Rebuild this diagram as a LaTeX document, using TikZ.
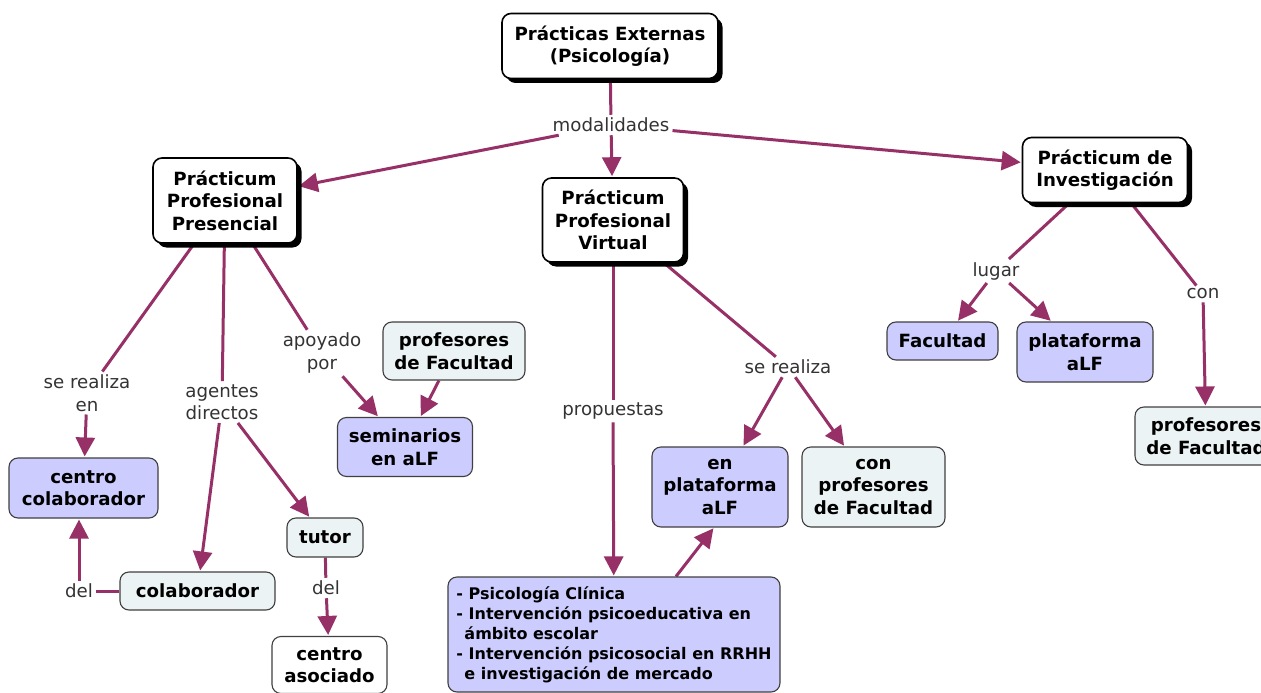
\documentclass[tikz,border=0pt]{standalone}
\usepackage{fontspec}
\setmainfont{DejaVu Sans}
\usetikzlibrary{shadows,arrows.meta,calc,backgrounds}
\definecolor{edgec}{RGB}{150,48,102}
\definecolor{purp}{RGB}{204,204,255}
\definecolor{grayb}{RGB}{236,243,244}
\begin{document}
\begin{tikzpicture}[x=1pt,y=-1pt,
 box/.style={rounded corners=9pt, draw=black!75, line width=1.1pt, align=center,
   font=\fontsize{18.2}{22.5}\selectfont\bfseries, inner sep=0pt},
 mainbox/.style={box, fill=white, draw=black, line width=1.6pt,
   drop shadow={shadow xshift=4.5pt, shadow yshift=-4.5pt, fill=black, opacity=1}},
 pbox/.style={box, fill=purp},
 gbox/.style={box, fill=grayb},
 wbox/.style={box, fill=white},
 lbl/.style={align=center, font=\fontsize{18.2}{22.5}\selectfont, text=black!80, inner sep=3pt},
 conn/.style={draw=edgec, line width=3pt},
 arr/.style={conn, -{Triangle[length=19pt,width=19pt]}, shorten >=1pt},
]
\useasboundingbox (0,0) rectangle (1261,693);

\node[mainbox, minimum width=216pt, minimum height=65pt] (root) at (610,46) {Prácticas Externas\\(Psicología)};
\node[lbl] (mod) at (611,125) {modalidades};
\node[mainbox, minimum width=144pt, minimum height=85pt] (ppp) at (225,200.5) {Prácticum\\Profesional\\Presencial};
\node[mainbox, minimum width=141pt, minimum height=84pt] (ppv) at (613,220) {Prácticum\\Profesional\\Virtual};
\node[mainbox, minimum width=165pt, minimum height=65pt] (pi) at (1105,170) {Prácticum de\\Investigación};
\node[lbl] (l1) at (87,393) {se realiza\\en};
\node[lbl] (l2) at (222,402) {agentes\\directos};
\node[lbl] (l3) at (322,353) {apoyado\\por};
\node[gbox, minimum width=142pt, minimum height=58pt] (profL) at (454,351) {profesores\\de Facultad};
\node[pbox, minimum width=135pt, minimum height=59pt] (sem) at (405,447) {seminarios\\en aLF};
\node[pbox, minimum width=149pt, minimum height=60pt] (cc) at (83.5,488) {centro\\colaborador};
\node[gbox, minimum width=155pt, minimum height=38pt] (colab) at (197.5,591) {colaborador};
\node[lbl] (del1) at (79,591) {del};
\node[gbox, minimum width=76pt, minimum height=39pt] (tutor) at (325,537.5) {tutor};
\node[lbl] (del2) at (326,588) {del};
\node[wbox, minimum width=115pt, minimum height=57pt] (ca) at (329.5,665) {centro\\asociado};
\node[lbl] (prop) at (613,411) {propuestas};
\node[lbl] (sr) at (788,367) {se realiza};
\node[pbox, minimum width=136pt, minimum height=80pt] (enpl) at (720,487) {en\\plataforma\\aLF};
\node[gbox, minimum width=143pt, minimum height=80pt] (conprof) at (873.5,487) {con\\profesores\\de Facultad};
\node[pbox, minimum width=332pt, minimum height=115pt, align=left,
  font=\fontsize{16}{20}\selectfont\bfseries] (list) at (614,634.5)
  {- Psicología Clínica\\- Intervención psicoeducativa en\\\hspace*{0.5em}ámbito escolar\\- Intervención psicosocial en RRHH\\\hspace*{0.5em}e investigación de mercado};
\node[lbl] (lugar) at (996,271) {lugar};
\node[lbl] (con) at (1203,294) {con};
\node[pbox, minimum width=111pt, minimum height=38pt] (fac) at (942.5,341) {Facultad};
\node[pbox, minimum width=136pt, minimum height=60pt] (platR) at (1085,352) {plataforma\\aLF};
\node[gbox, minimum width=142pt, minimum height=58pt] (profR) at (1206,436) {profesores\\de Facultad};

\begin{scope}[on background layer]
\fill[white] (0,0) rectangle (1261,693);
\draw[conn] (root) -- (mod);
\draw[arr] (mod) -- (ppp);
\draw[arr] (mod) -- (ppv);
\draw[arr] (mod) -- (pi);
\draw[conn] (ppp) -- (l1);
\draw[arr] (l1) -- (cc);
\draw[conn] (ppp) -- (l2);
\draw[arr] (l2) -- (colab);
\draw[arr] (l2) -- (tutor);
\draw[conn] (ppp) -- (l3);
\draw[arr] (l3) -- (sem);
\draw[arr] (profL) -- (sem);
\draw[conn] (colab) -- (del1);
\draw[arr] (del1) -- (del1 |- cc.south);
\draw[conn] (tutor) -- (del2);
\draw[arr] (del2) -- (ca);
\draw[conn] (ppv) -- (prop);
\draw[arr] (prop) -- (list);
\draw[conn] (ppv) -- (sr);
\draw[arr] (sr) -- (enpl);
\draw[arr] (sr) -- (conprof);
\draw[arr] ($(list.north)+(62,0)$) -- ($(enpl.south)+(-6,0)$);
\draw[conn] (pi) -- (lugar);
\draw[arr] (lugar) -- (fac);
\draw[arr] (lugar) -- (platR);
\draw[conn] (pi) -- (con);
\draw[arr] (con) -- (profR);
\end{scope}
\end{tikzpicture}
\end{document}
